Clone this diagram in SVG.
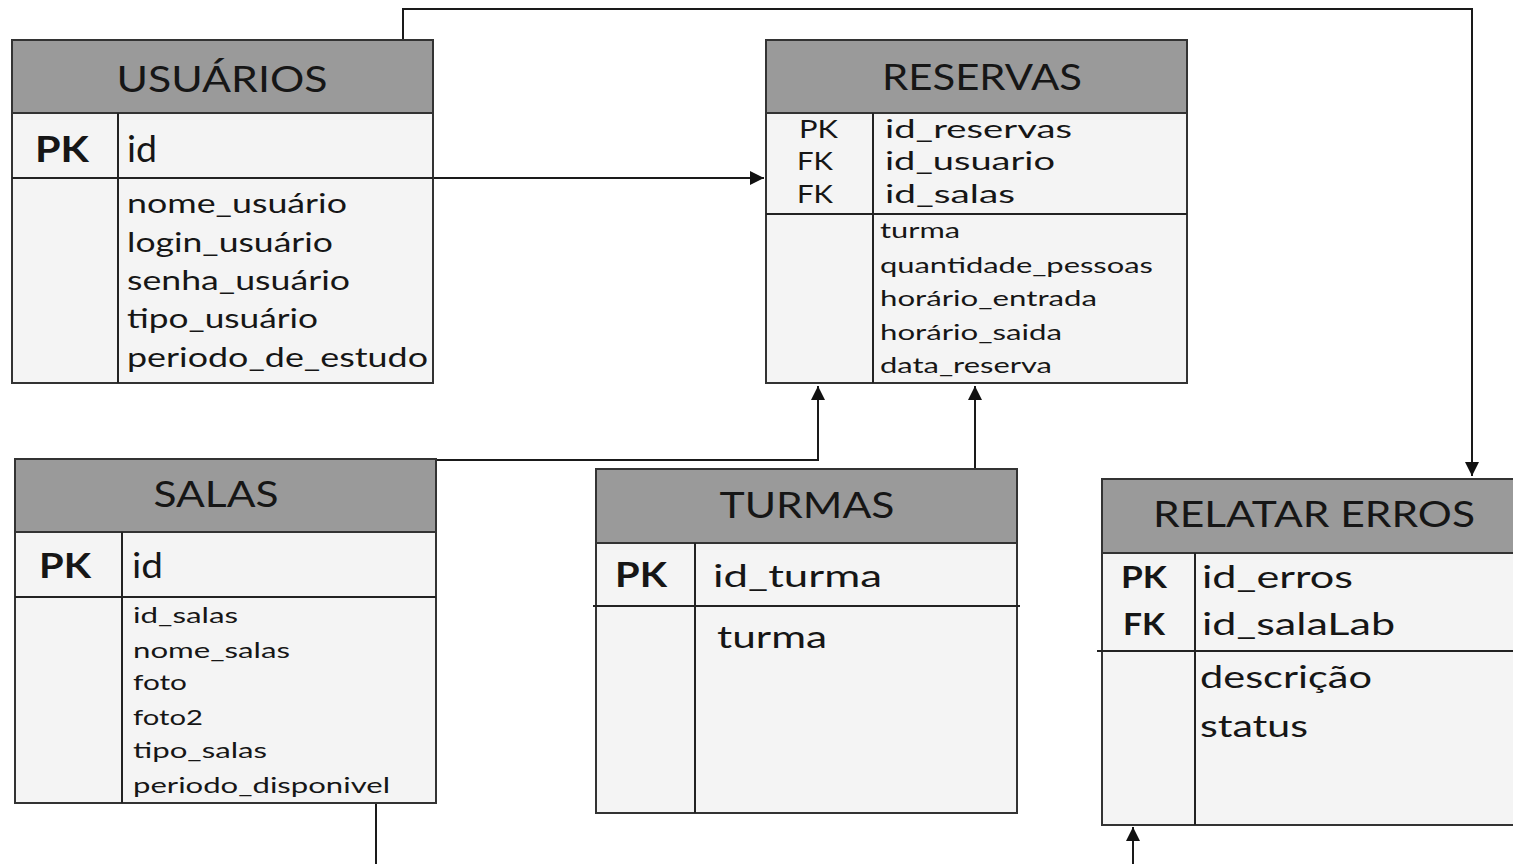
<svg xmlns="http://www.w3.org/2000/svg" width="1513" height="864" viewBox="0 0 1513 864">
<style>
.hdr{fill:#9a9a9a;stroke:#333;stroke-width:2}
.body{fill:#f4f4f4;stroke:#333;stroke-width:2}
.ln{stroke:#222;stroke-width:2;fill:none}
.t{font-family:Lato,"Open Sans",sans-serif;fill:#161616}
.title{font-size:37px;text-anchor:middle}
.pk{font-weight:bold}
.con{stroke:#1a1a1a;stroke-width:2;fill:none}
</style>
<defs>
<marker id="arr" viewBox="0 0 10 10" refX="10" refY="5" markerWidth="7" markerHeight="7" markerUnits="strokeWidth" orient="auto">
<path d="M0,0 L10,5 L0,10 z" fill="#111"/>
</marker>
</defs>
<rect width="1513" height="864" fill="#fff"/>

<g id="connectors">
<path class="con" d="M403,40 V9 H1472 V476" marker-end="url(#arr)"/>
<path class="con" d="M433,178 H764" marker-end="url(#arr)"/>
<path class="con" d="M436,460 H818 V386" marker-end="url(#arr)"/>
<path class="con" d="M975,468 V386" marker-end="url(#arr)"/>
<path class="con" d="M376,803 V864"/>
<path class="con" d="M1133,864 V827" marker-end="url(#arr)"/>
</g>

<g id="usuarios">
<rect class="body" x="12" y="113" width="421" height="270"/>
<rect class="hdr" x="12" y="40" width="421" height="73"/>
<line class="ln" x1="12" y1="178" x2="433" y2="178"/>
<line class="ln" x1="118" y1="113" x2="118" y2="383"/>
<text class="t title" x="222" y="92" textLength="211" lengthAdjust="spacingAndGlyphs">USUÁRIOS</text>
<text class="t pk" x="35" y="162" font-size="37" textLength="54" lengthAdjust="spacingAndGlyphs">PK</text>
<text class="t" x="127" y="162" font-size="36" textLength="30" lengthAdjust="spacingAndGlyphs">id</text>
<g class="t" font-size="27">
<text x="127" y="213" textLength="220" lengthAdjust="spacingAndGlyphs">nome_usuário</text>
<text x="127" y="252" textLength="206" lengthAdjust="spacingAndGlyphs">login_usuário</text>
<text x="127" y="290" textLength="223" lengthAdjust="spacingAndGlyphs">senha_usuário</text>
<text x="127" y="328" textLength="191" lengthAdjust="spacingAndGlyphs">tipo_usuário</text>
<text x="127" y="367" textLength="301" lengthAdjust="spacingAndGlyphs">periodo_de_estudo</text>
</g>
</g>

<g id="reservas">
<rect class="body" x="766" y="113" width="421" height="270"/>
<rect class="hdr" x="766" y="40" width="421" height="73"/>
<line class="ln" x1="766" y1="214" x2="1187" y2="214"/>
<line class="ln" x1="873" y1="113" x2="873" y2="383"/>
<text class="t title" x="982" y="90" textLength="200" lengthAdjust="spacingAndGlyphs">RESERVAS</text>
<g class="t" font-size="25">
<text x="799" y="138" textLength="39" lengthAdjust="spacingAndGlyphs">PK</text>
<text x="797" y="170" textLength="36" lengthAdjust="spacingAndGlyphs">FK</text>
<text x="797" y="203" textLength="36" lengthAdjust="spacingAndGlyphs">FK</text>
<text x="885" y="138" textLength="187" lengthAdjust="spacingAndGlyphs">id_reservas</text>
<text x="885" y="170" textLength="170" lengthAdjust="spacingAndGlyphs">id_usuario</text>
<text x="885" y="203" textLength="130" lengthAdjust="spacingAndGlyphs">id_salas</text>
</g>
<g class="t" font-size="22">
<text x="880" y="238" textLength="80" lengthAdjust="spacingAndGlyphs">turma</text>
<text x="880" y="273" textLength="273" lengthAdjust="spacingAndGlyphs">quantidade_pessoas</text>
<text x="880" y="306" textLength="217" lengthAdjust="spacingAndGlyphs">horário_entrada</text>
<text x="880" y="340" textLength="182" lengthAdjust="spacingAndGlyphs">horário_saida</text>
<text x="880" y="373" textLength="172" lengthAdjust="spacingAndGlyphs">data_reserva</text>
</g>
</g>

<g id="salas">
<rect class="body" x="15" y="532" width="421" height="271"/>
<rect class="hdr" x="15" y="459" width="421" height="73"/>
<line class="ln" x1="15" y1="597" x2="436" y2="597"/>
<line class="ln" x1="122" y1="532" x2="122" y2="803"/>
<text class="t title" x="216" y="507" textLength="125" lengthAdjust="spacingAndGlyphs">SALAS</text>
<text class="t pk" x="39" y="578" font-size="34" textLength="52" lengthAdjust="spacingAndGlyphs">PK</text>
<text class="t" x="132" y="578" font-size="34" textLength="31" lengthAdjust="spacingAndGlyphs">id</text>
<g class="t" font-size="22">
<text x="133" y="623" textLength="105" lengthAdjust="spacingAndGlyphs">id_salas</text>
<text x="133" y="658" textLength="157" lengthAdjust="spacingAndGlyphs">nome_salas</text>
<text x="133" y="690" textLength="54" lengthAdjust="spacingAndGlyphs">foto</text>
<text x="133" y="725" textLength="70" lengthAdjust="spacingAndGlyphs">foto2</text>
<text x="133" y="758" textLength="134" lengthAdjust="spacingAndGlyphs">tipo_salas</text>
<text x="133" y="793" textLength="257" lengthAdjust="spacingAndGlyphs">periodo_disponivel</text>
</g>
</g>

<g id="turmas">
<rect class="body" x="596" y="543" width="421" height="270"/>
<rect class="hdr" x="596" y="469" width="421" height="74"/>
<line class="ln" x1="593" y1="606" x2="1020" y2="606"/>
<line class="ln" x1="695" y1="543" x2="695" y2="813"/>
<text class="t title" x="807" y="518" textLength="175" lengthAdjust="spacingAndGlyphs">TURMAS</text>
<text class="t pk" x="615" y="587" font-size="34" textLength="52" lengthAdjust="spacingAndGlyphs">PK</text>
<text class="t" x="713" y="587" font-size="31" textLength="169" lengthAdjust="spacingAndGlyphs">id_turma</text>
<text class="t" x="717" y="648" font-size="31" textLength="110" lengthAdjust="spacingAndGlyphs">turma</text>
</g>

<g id="relatar-erros">
<rect class="body" x="1102" y="553" width="420" height="272"/>
<rect class="hdr" x="1102" y="479" width="420" height="74"/>
<line class="ln" x1="1097" y1="651" x2="1513" y2="651"/>
<line class="ln" x1="1195" y1="553" x2="1195" y2="825"/>
<text class="t title" x="1314" y="527" textLength="322" lengthAdjust="spacingAndGlyphs">RELATAR ERROS</text>
<text class="t pk" x="1121" y="588" font-size="31" textLength="46" lengthAdjust="spacingAndGlyphs">PK</text>
<text class="t pk" x="1123" y="635" font-size="31" textLength="42" lengthAdjust="spacingAndGlyphs">FK</text>
<g class="t" font-size="31">
<text x="1202" y="588" textLength="151" lengthAdjust="spacingAndGlyphs">id_erros</text>
<text x="1202" y="635" textLength="193" lengthAdjust="spacingAndGlyphs">id_salaLab</text>
<text x="1200" y="688" textLength="172" lengthAdjust="spacingAndGlyphs">descrição</text>
<text x="1200" y="737" textLength="108" lengthAdjust="spacingAndGlyphs">status</text>
</g>
</g>
</svg>
